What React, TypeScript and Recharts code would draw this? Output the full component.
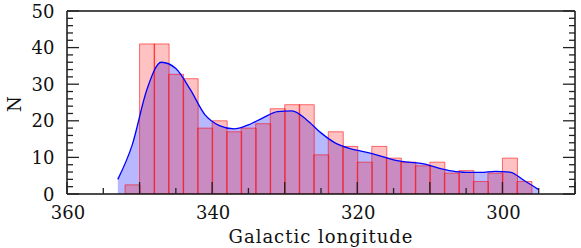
import { ComposedChart, Bar, Area, Line, XAxis, YAxis } from 'recharts';

// bin centres (deg), 2-deg bins; first and last entry only carry the KDE ends
const lonCenters = [
  353, 351, 349, 347, 345, 343, 341, 339, 337, 335, 333, 331, 329, 327, 325,
  323, 321, 319, 317, 315, 313, 311, 309, 307, 305, 303, 301, 299, 297, 295,
];
const binCounts = [
  null, 2.5, 41, 41, 32.7, 31.5, 18, 20, 17, 18, 19.2, 23.3, 24.4, 24.4, 10.7,
  17, 13, 8.7, 13, 9.8, 8.7, 7.7, 8.7, 5.7, 6.4, 3.4, 5.7, 9.8, 3.4, null,
];
const kdeValues = [
  4, 13.5, 28.5, 36, 34.3, 28.5, 21.7, 18.7, 17.8, 18.9, 20.8, 22.5, 22.7, 20.3, 16.7,
  13.9, 12.4, 11.5, 10.5, 9.3, 8.7, 8.3, 7.2, 6.3, 5.9, 5.9, 6.2, 6.0, 3.7, 1.2,
];
const xTicks = [360, 355, 350, 345, 340, 335, 330, 325, 320, 315, 310, 305, 300, 295, 290];
const yTicks = [0, 2, 4, 6, 8, 10, 12, 14, 16, 18, 20, 22, 24, 26, 28, 30, 32, 34, 36, 38, 40, 42, 44, 46, 48, 50];

const data = lonCenters.map((lon, i) => ({ lon, count: binCounts[i], kde: kdeValues[i] }));

const FONT = '"DejaVu Serif", serif';
const INK = '#222';

function XTick({ x, y, payload, top }: any) {
  const v = payload.value;
  const len = v % 10 === 0 ? 12 : 6;
  return (
    <g>
      <line x1={x} x2={x} y1={y} y2={top ? y + len : y - len} stroke={INK} strokeWidth={1.3} />
      {!top && v % 20 === 0 && (
        <text x={x + 1} y={y + 24.5} textAnchor="middle" fontFamily={FONT} fontSize={18} fill="#111">
          {v}
        </text>
      )}
    </g>
  );
}

function YTick({ x, y, payload, right }: any) {
  const v = payload.value;
  const len = v % 10 === 0 ? 12 : 6;
  return (
    <g>
      <line x1={x} x2={right ? x - len : x + len} y1={y} y2={y} stroke={INK} strokeWidth={1.3} />
      {!right && v % 10 === 0 && (
        <text x={x - 12.5} y={y + 6.5} textAnchor="end" fontFamily={FONT} fontSize={18} fill="#111">
          {v}
        </text>
      )}
    </g>
  );
}

const XTitle = ({ viewBox }: any) => (
  <text
    x={viewBox.x + viewBox.width / 2}
    y={viewBox.y + viewBox.height - 5}
    textAnchor="middle"
    fontFamily={FONT}
    fontSize={18}
    letterSpacing={1}
    fill="#111"
  >
    Galactic longitude
  </text>
);

const YTitle = ({ viewBox }: any) => {
  const cx = 21;
  const cy = viewBox.y + viewBox.height / 2 + 1.5;
  return (
    <text x={cx} y={cy} transform={`rotate(-90, ${cx}, ${cy})`} textAnchor="middle" fontFamily={FONT} fontSize={18} fill="#111">
      N
    </text>
  );
};

export default function App() {
  const frame = { stroke: '#111', strokeWidth: 1.5 };
  return (
    <div style={{ position: 'absolute', left: 0, top: 0, background: '#fff' }}>
      <ComposedChart width={581} height={248} data={data} margin={{ top: 10, right: 5, left: 0, bottom: 0 }} barCategoryGap={0} barGap={0}>
        <XAxis
          dataKey="lon"
          type="number"
          domain={[290, 360]}
          reversed
          allowDataOverflow
          ticks={xTicks}
          interval={0}
          tickLine={false}
          tickSize={0}
          tickMargin={0}
          tick={<XTick />}
          height={54}
          axisLine={frame}
          label={{ content: XTitle }}
        />
        <XAxis
          xAxisId="top"
          orientation="top"
          type="number"
          domain={[290, 360]}
          reversed
          allowDataOverflow
          ticks={xTicks}
          interval={0}
          tickLine={false}
          tickSize={0}
          tickMargin={0}
          tick={<XTick top />}
          height={1}
          axisLine={frame}
        />
        <YAxis
          type="number"
          domain={[0, 50]}
          allowDataOverflow
          ticks={yTicks}
          interval={0}
          tickLine={false}
          tickSize={0}
          tickMargin={0}
          tick={<YTick />}
          width={67}
          axisLine={frame}
          label={{ content: YTitle }}
        />
        <YAxis
          yAxisId="right"
          orientation="right"
          type="number"
          domain={[0, 50]}
          allowDataOverflow
          ticks={yTicks}
          interval={0}
          tickLine={false}
          tickSize={0}
          tickMargin={0}
          tick={<YTick right />}
          width={1}
          axisLine={frame}
        />
        <Area
          dataKey="kde"
          type="monotone"
          fill="rgba(0,0,255,0.28)"
          fillOpacity={1}
          stroke="none"
          isAnimationActive={false}
          dot={false}
          activeDot={false}
        />
        <Bar
          dataKey="count"
          fill="rgba(255,0,0,0.24)"
          stroke="rgba(255,0,0,0.55)"
          strokeWidth={1}
          isAnimationActive={false}
        />
        <Line
          dataKey="kde"
          type="monotone"
          stroke="#0000ff"
          strokeWidth={1.3}
          dot={false}
          activeDot={false}
          isAnimationActive={false}
        />
      </ComposedChart>
    </div>
  );
}
